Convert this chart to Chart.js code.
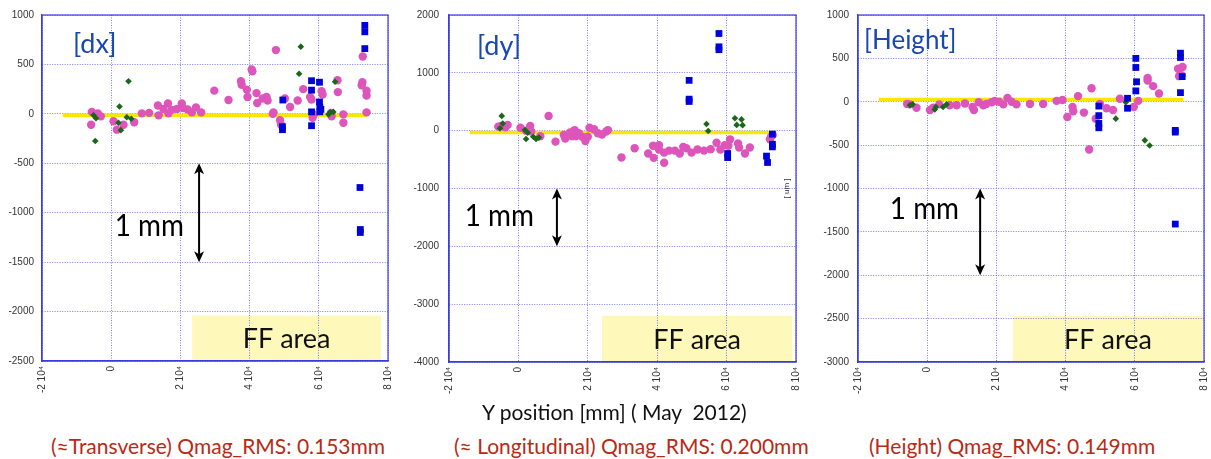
<!DOCTYPE html>
<html>
<head>
<meta charset="utf-8">
<script src="https://cdn.jsdelivr.net/npm/chart.js@4"></script>
<style>
  body { margin: 0; background: #fff; width: 1211px; height: 459px; overflow: hidden; position: relative; font-family: Lato, sans-serif; }
  canvas { position: absolute; top: 0; }
  .cap { position: absolute; white-space: nowrap; }
  #xtitle { left: 482px; top: 399px; font-size: 21px; color: #111; }
  .rms { top: 433px; font-size: 21px; color: #b82a14; }
</style>
</head>
<body>
<canvas id="dxChart" width="395" height="400" style="left:0px"></canvas>
<canvas id="dyChart" width="404" height="400" style="left:400px"></canvas>
<canvas id="hChart" width="401" height="400" style="left:810px"></canvas>

<div id="xtitle" class="cap">Y position [mm] ( May&nbsp; 2012)</div>
<div class="cap rms" style="left:51px">(≈Transverse) Qmag_RMS: 0.153mm</div>
<div class="cap rms" style="left:454px">(≈ Longitudinal) Qmag_RMS: 0.200mm</div>
<div class="cap rms" style="left:869px">(Height) Qmag_RMS: 0.149mm</div>

<script>
// x axis ticks (Y position, mm)
const xTicks = [-20000, 0, 20000, 40000, 60000, 80000];
const xTickLabels = ['-2 10\u2074', '0', '2 10\u2074', '4 10\u2074', '6 10\u2074', '8 10\u2074'];

// [dx] panel
const dxPink = [
  [-5600, 20], [-5800, -110], [-3850, 5], [-3000, -25], [670, -75], [1640, -160], [3560, -110],
  [6640, -85], [8860, 5], [10970, 10], [13500, 85], [13700, -15], [15100, 50], [16400, 105],
  [16550, 5], [17500, 40], [19000, 50], [20400, 105], [20700, 60], [22100, 45], [23300, 15],
  [24500, 65], [26000, 15], [29800, 235], [33900, 140], [37500, 330], [37700, 295], [39200, 245],
  [39400, 170], [40600, 450], [40800, 430], [42000, 210], [42200, 110], [43800, 155], [44900, 170],
  [45200, 135], [46900, 15], [46700, 0], [47600, 645], [48800, -65], [49100, -110], [50200, 155],
  [51700, 70], [53900, 135], [55500, 250], [57500, 170], [57900, 145], [58200, -40], [58600, -5],
  [60800, 230], [61100, 195], [63500, 10], [63700, -25], [65400, 340], [65500, 220], [67100, -5],
  [67100, -90], [72700, 580], [72600, 320], [72400, 290], [73800, 235], [73800, 185], [73800, 15]
];
const dxGreen = [
  [-5100, -15], [-4400, -45], [-4600, -275], [5000, 330], [2400, 75], [2100, -90], [2800, -165],
  [4500, -35], [5800, -50], [54800, 680], [54300, 405], [64700, 325], [62800, -5], [63300, 15], [64200, 20]
];
const dxBlue = [
  [49600, 140], [49500, -130], [49500, -160], [57900, 335], [57900, 240], [57900, 20], [57900, -120],
  [60200, 320], [60200, 120], [60300, 70], [60300, 20], [60600, 45], [73300, 895], [73300, 830],
  [73300, 660], [71900, -745], [72000, -1170], [72000, -1200]
];
const dxFit = [[-14000, -15], [74000, -15]];

// [dy] panel
const dyPink = [
  [-5800, 70], [-5000, 80], [-3750, 60], [-3100, 100], [600, 50], [2200, 0], [3400, 80], [3700, -15],
  [6300, -95], [8700, 255], [10700, -190], [13100, -75], [13500, -135], [14900, -30], [15500, -95],
  [16200, 10], [16500, -95], [17400, -45], [18400, -105], [19300, -180], [20000, -105], [20500, 50],
  [21800, 25], [22900, -45], [24100, -65], [25300, -15], [25800, 10], [29700, -465], [33500, -305],
  [37400, -395], [38800, -260], [39000, -470], [40500, -250], [40500, -325], [42000, -555],
  [42000, -380], [43400, -345], [45100, -345], [46500, -395], [47500, -280], [48400, -305],
  [49900, -380], [51600, -325], [53500, -345], [55400, -320], [57100, -210], [58200, -325],
  [59500, -250], [60500, -260], [61000, -150], [63300, -220], [63600, -290], [65300, -395],
  [66700, -290], [72500, -150], [72800, -105], [73300, -75]
];
const dyGreen = [
  [-4800, 255], [-4500, 125], [-5300, 40], [1900, 10], [2700, -35], [2200, -145], [4300, -105],
  [5100, -145], [5900, -120], [54200, 115], [54700, -5], [62400, 215], [64300, 195], [62900, 100], [64600, 95]
];
const dyBlue = [
  [49200, 870], [49200, 545], [49200, 505], [57800, 1680], [57800, 1450], [57800, 1400],
  [60300, -395], [60300, -465], [71500, -440], [71800, -550], [73200, -60], [73200, -235], [73200, -280]
];
const dyFit = [[-14000, -30], [74000, -30]];

// [Height] panel
const hPink = [
  [-5800, -25], [-5000, -30], [-3100, -70], [800, -95], [1700, -70], [3500, -30], [6500, -40],
  [8500, -40], [10900, -20], [13100, -60], [13500, -95], [14900, -5], [16200, -40], [17100, -25],
  [18600, -5], [19500, 10], [20800, 0], [22000, -30], [23200, 45], [24400, 0], [25800, -30],
  [29700, -25], [33500, -25], [37400, 10], [39100, 20], [40500, -175], [42000, -60], [42200, -110],
  [43600, 65], [45300, -125], [46800, -550], [47500, 155], [48700, -195], [49900, -25], [51800, -75],
  [53700, -95], [55700, 35], [59700, -60], [61000, 10], [63700, 275], [63700, 245], [65300, 180],
  [67000, 95], [72500, 380], [72800, 295], [73800, 400], [73500, 305]
];
const hGreen = [
  [-5000, -40], [-4200, -30], [2200, -90], [2500, -60], [4600, -60], [5600, -30],
  [54500, -195], [57400, -5], [62900, -445], [64300, -505]
];
const hBlue = [
  [49600, -50], [49600, -160], [49600, -250], [49600, -300], [57900, 40], [57900, -75],
  [60300, 500], [60300, 395], [60500, 230], [60300, 125], [71700, -330], [71700, -350],
  [73200, 560], [73200, 510], [73700, 290], [73200, 105], [71700, -1410]
];
const hFit = [[-14000, 27], [74000, 27]];

const PINK = '#dd55bb';
const GREEN = '#1a661a';
const BLUE = '#0000d8';
const GRID = 'rgba(100,100,235,0.85)';
const AXIS = '#3a3ae0';

function toPts(arr) {
  return arr.map(p => ({ x: p[0], y: p[1] }));
}

// overlays: FF box, 1 mm arrow, labels, frame
const overlayPlugin = {
  id: 'overlay',
  beforeDraw(chart) {
    const o = chart.options.plugins.overlay;
    const { x, y } = chart.scales;
    const ctx = chart.ctx;
    const x1 = x.getPixelForValue(o.ff[0]), x2 = x.getPixelForValue(o.ff[1]);
    const y1 = y.getPixelForValue(o.ff[2]), y2 = y.getPixelForValue(y.min);
    ctx.save();
    ctx.fillStyle = '#fff8bb';
    ctx.fillRect(x1, y1, x2 - x1, y2 - y1);
    ctx.restore();
  },
  afterDatasetsDraw(chart) {
    const o = chart.options.plugins.overlay;
    const { x, y } = chart.scales;
    const ctx = chart.ctx;
    const a = chart.chartArea;
    ctx.save();
    // frame
    ctx.strokeStyle = AXIS;
    ctx.lineWidth = 1.2;
    ctx.strokeRect(a.left, a.top, a.right - a.left, a.bottom - a.top);

    // FF area text
    const fx = (x.getPixelForValue(o.ff[0]) + x.getPixelForValue(o.ff[1])) / 2;
    const fy = (y.getPixelForValue(o.ff[2]) + y.getPixelForValue(y.min)) / 2;
    ctx.fillStyle = '#111';
    ctx.font = '27px Lato, sans-serif';
    ctx.textAlign = 'center';
    ctx.textBaseline = 'middle';
    ctx.fillText('FF area', fx, fy + 1);

    // 1 mm arrow
    const ax = x.getPixelForValue(o.arrow[0]);
    const ay1 = y.getPixelForValue(o.arrow[1]);
    const ay2 = y.getPixelForValue(o.arrow[2]);
    ctx.strokeStyle = '#000';
    ctx.fillStyle = '#000';
    ctx.lineWidth = 2;
    ctx.beginPath();
    ctx.moveTo(ax, ay1 + 6);
    ctx.lineTo(ax, ay2 - 6);
    ctx.stroke();
    ctx.beginPath();
    ctx.moveTo(ax, ay1);
    ctx.lineTo(ax - 5, ay1 + 11);
    ctx.lineTo(ax, ay1 + 8);
    ctx.lineTo(ax + 5, ay1 + 11);
    ctx.closePath();
    ctx.fill();
    ctx.beginPath();
    ctx.moveTo(ax, ay2);
    ctx.lineTo(ax - 5, ay2 - 11);
    ctx.lineTo(ax, ay2 - 8);
    ctx.lineTo(ax + 5, ay2 - 11);
    ctx.closePath();
    ctx.fill();

    // 1 mm text
    ctx.font = '31px Lato, sans-serif';
    ctx.textAlign = 'right';
    ctx.save();
    const mx = x.getPixelForValue(o.mmText[0]);
    const my = y.getPixelForValue(o.mmText[1]);
    ctx.translate(mx, my);
    ctx.scale(0.9, 1);
    ctx.fillText('1 mm', 0, 0);
    ctx.restore();

    // panel label
    ctx.fillStyle = '#1848b0';
    ctx.font = o.nameSize + 'px Lato, sans-serif';
    ctx.textAlign = 'left';
    ctx.fillText(o.name, a.left + o.namePos[0], a.top + o.namePos[1]);

    // unit label
    if (o.unit) {
      ctx.save();
      ctx.fillStyle = '#333';
      ctx.font = '8px "Liberation Sans", sans-serif';
      ctx.textAlign = 'center';
      ctx.translate(x.getPixelForValue(o.unit[0]), y.getPixelForValue(o.unit[1]));
      ctx.rotate(-Math.PI / 2);
      ctx.fillText('[ um ]', 0, 0);
      ctx.restore();
    }
    ctx.restore();
  }
};

function makePanel(id, cfg) {
  const canvas = document.getElementById(id);
  return new Chart(canvas.getContext('2d'), {
    type: 'scatter',
    data: {
      datasets: [
        { data: toPts(cfg.blue), pointStyle: 'rect', pointRadius: 4.8, backgroundColor: BLUE, borderColor: BLUE, borderWidth: 0, order: 1 },
        { data: toPts(cfg.green), pointStyle: 'rectRot', pointRadius: 3.3, backgroundColor: GREEN, borderColor: GREEN, borderWidth: 0, order: 2 },
        { data: toPts(cfg.pink), pointStyle: 'circle', pointRadius: 4.2, backgroundColor: PINK, borderColor: PINK, borderWidth: 0, order: 3 },
        { type: 'line', data: toPts(cfg.fit), showLine: true, pointRadius: 0, borderColor: '#f8e800', borderWidth: 3.5, order: 4 }
      ]
    },
    options: {
      responsive: false,
      animation: false,
      events: [],
      layout: { padding: { top: 15, right: cfg.padRight, left: 0, bottom: 0 } },
      plugins: {
        legend: { display: false },
        tooltip: { enabled: false },
        overlay: cfg.overlay
      },
      scales: {
        x: {
          type: 'linear',
          min: -20000,
          max: 80000,
          afterBuildTicks: s => { s.ticks = xTicks.map(v => ({ value: v })); },
          afterFit: s => { s.height = cfg.xHeight; s.paddingLeft = 0; s.paddingRight = 0; },
          ticks: {
            minRotation: 90,
            maxRotation: 90,
            padding: 5,
            color: '#333',
            font: { family: '"Liberation Sans", Arial, sans-serif', size: 10 },
            callback: v => xTickLabels[xTicks.indexOf(v)]
          },
          grid: { color: GRID, lineWidth: 1, drawTicks: false },
          border: { display: true, color: AXIS, width: 1.2, dash: [1, 1.5] }
        },
        y: {
          min: cfg.yMin,
          max: cfg.yMax,
          afterFit: s => { s.width = cfg.yWidth; s.paddingTop = 0; s.paddingBottom = 0; },
          ticks: {
            stepSize: cfg.yStep,
            padding: cfg.yPad,
            color: '#333',
            font: { family: '"Liberation Sans", Arial, sans-serif', size: 10 },
            callback: v => String(v)
          },
          grid: { color: GRID, lineWidth: 1, drawTicks: false },
          border: { display: true, color: AXIS, width: 1.2, dash: [1, 1.5] }
        }
      }
    },
    plugins: [overlayPlugin]
  });
}

makePanel('dxChart', {
  pink: dxPink, green: dxGreen, blue: dxBlue, fit: dxFit,
  yMin: -2500, yMax: 1000, yStep: 500, yWidth: 42, yPad: 8, padRight: 7, xHeight: 39,
  overlay: { ff: [23400, 78000, -2040], arrow: [25400, -500, -1500], mmText: [21000, -1130],
    name: '[dx]', nameSize: 27, namePos: [31, 29] }
});
makePanel('dyChart', {
  pink: dyPink, green: dyGreen, blue: dyBlue, fit: dyFit,
  yMin: -4000, yMax: 2000, yStep: 1000, yWidth: 49, yPad: 10, padRight: 8, xHeight: 38,
  overlay: { ff: [24100, 78900, -3200], arrow: [11100, -1000, -2000], mmText: [4500, -1480],
    name: '[dy]', nameSize: 27, namePos: [28, 31], unit: [77400, -1000] }
});
makePanel('hChart', {
  pink: hPink, green: hGreen, blue: hBlue, fit: hFit,
  yMin: -3000, yMax: 1000, yStep: 500, yWidth: 48, yPad: 9, padRight: 7, xHeight: 38,
  overlay: { ff: [24800, 79700, -2470], arrow: [15300, -1000, -2000], mmText: [9200, -1240],
    name: '[Height]', nameSize: 26, namePos: [6, 26] }
});
</script>
</body>
</html>
